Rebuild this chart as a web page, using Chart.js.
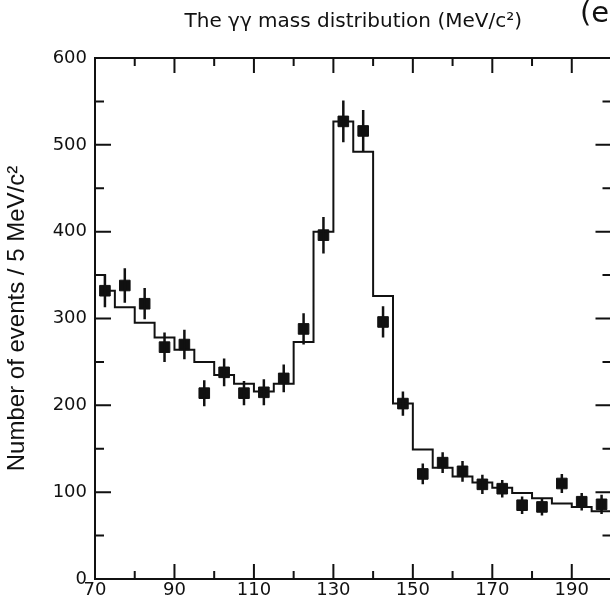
<!DOCTYPE html>
<html>
<head>
<meta charset="utf-8">
<script src="https://cdn.jsdelivr.net/npm/chart.js@4.4.0/dist/chart.umd.min.js"></script>
<style>
  html, body { margin: 0; padding: 0; background: #fff; overflow: hidden; width: 610px; height: 612px; }
  #wrap { position: relative; width: 620px; height: 612px; }
  #corner { position: absolute; left: 580px; top: -5px; font: 29px "DejaVu Sans"; color: #111; }
</style>
</head>
<body>
<div id="wrap">
  <canvas id="massChart" width="620" height="612"></canvas>
  <div id="corner">(e</div>
</div>
<script>
// measured points (bin centres, 5 MeV bins)
const massBins = [72.5, 77.5, 82.5, 87.5, 92.5, 97.5, 102.5, 107.5, 112.5, 117.5, 122.5, 127.5, 132.5,
                  137.5, 142.5, 147.5, 152.5, 157.5, 162.5, 167.5, 172.5, 177.5, 182.5, 187.5, 192.5, 197.5];
const eventCounts = [332, 338, 317, 267, 270, 214, 238, 214, 215, 231, 288, 396, 527,
                     516, 296, 202, 121, 134, 124, 109, 104, 85, 83, 110, 89, 86];
const countErrors = [19, 20, 18, 17, 17, 15, 16, 14, 15, 16, 18, 21, 24,
                     24, 18, 14, 12, 12, 12, 11, 10, 10, 10, 11, 10, 11];

// fitted histogram: left edge of each step and its level
const fitEdges = [70, 72.5, 75, 80, 85, 90, 95, 100, 105, 110, 115, 120, 125, 130,
                  135, 140, 145, 150, 155, 160, 165, 170, 175, 180, 185, 190, 195, 200];
const fitLevels = [350, 332, 313, 295, 278, 264, 250, 235, 225, 216, 225, 273, 400, 527,
                   492, 326, 202, 149, 128, 118, 111, 105, 99, 93, 87, 83, 78, 78];

const xTickValues = [70, 90, 110, 130, 150, 170, 190];
const xMinorTicks = [80, 100, 120, 140, 160, 180, 200];
const yTickValues = [0, 100, 200, 300, 400, 500, 600];
const yMinorTicks = [50, 150, 250, 350, 450, 550];

const INK = "#111";

// frame with inward ticks on all four sides
const frameTicks = {
  id: "frameTicks",
  afterDraw(chart) {
    const { ctx, chartArea: a, scales: { x, y } } = chart;
    ctx.save();
    ctx.strokeStyle = INK;
    ctx.lineWidth = 2;
    ctx.strokeRect(a.left, a.top, a.right - a.left, a.bottom - a.top);
    ctx.beginPath();
    const xt = (v, len) => {
      const px = x.getPixelForValue(v);
      ctx.moveTo(px, a.bottom); ctx.lineTo(px, a.bottom - len);
      ctx.moveTo(px, a.top); ctx.lineTo(px, a.top + len);
    };
    const yt = (v, len) => {
      const py = y.getPixelForValue(v);
      ctx.moveTo(a.left, py); ctx.lineTo(a.left + len, py);
      ctx.moveTo(a.right, py); ctx.lineTo(a.right - len, py);
    };
    xTickValues.forEach(v => xt(v, 15));
    xMinorTicks.forEach(v => xt(v, 8));
    yTickValues.forEach(v => yt(v, 16));
    yMinorTicks.forEach(v => yt(v, 9));
    ctx.stroke();
    ctx.restore();
  }
};

// vertical error bars on the measured points
const errorBars = {
  id: "errorBars",
  afterDatasetsDraw(chart) {
    const { ctx, scales: { x, y } } = chart;
    ctx.save();
    ctx.strokeStyle = INK;
    ctx.lineWidth = 2.5;
    ctx.beginPath();
    massBins.forEach((m, i) => {
      const px = x.getPixelForValue(m);
      ctx.moveTo(px, y.getPixelForValue(eventCounts[i] - countErrors[i]));
      ctx.lineTo(px, y.getPixelForValue(eventCounts[i] + countErrors[i]));
    });
    ctx.stroke();
    ctx.restore();
  }
};

const tickFont = { family: "DejaVu Sans", size: 18 };

new Chart(document.getElementById("massChart"), {
  data: {
    datasets: [
      {
        type: "line",
        data: fitEdges.map((e, i) => ({ x: e, y: fitLevels[i] })),
        stepped: "before",
        borderColor: INK,
        borderWidth: 2,
        pointRadius: 0,
        fill: false
      },
      {
        type: "scatter",
        data: massBins.map((m, i) => ({ x: m, y: eventCounts[i] })),
        pointStyle: "rect",
        pointRadius: 7.5,
        backgroundColor: INK,
        borderColor: INK,
        borderWidth: 1
      }
    ]
  },
  options: {
    responsive: false,
    animation: false,
    layout: { padding: { left: 0, right: 6, top: 0, bottom: 0 } },
    plugins: {
      legend: { display: false },
      tooltip: { enabled: false },
      title: {
        display: true,
        text: "The γγ mass distribution (MeV/c²)",
        fullSize: false,
        color: INK,
        font: { family: "DejaVu Sans", size: 20, weight: "normal" },
        padding: { top: 10, bottom: 24 }
      }
    },
    scales: {
      x: {
        type: "linear",
        min: 70,
        max: 200,
        grid: { display: false, drawTicks: false },
        border: { display: false },
        afterBuildTicks: s => { s.ticks = xTickValues.map(v => ({ value: v })); },
        afterFit: s => { s.height = 33; },
        ticks: { color: INK, font: tickFont, padding: 1, maxRotation: 0, autoSkip: false }
      },
      y: {
        type: "linear",
        min: 0,
        max: 600,
        grid: { display: false, drawTicks: false },
        border: { display: false },
        afterBuildTicks: s => { s.ticks = yTickValues.map(v => ({ value: v })); },
        afterFit: s => { s.width = 95; },
        ticks: { color: INK, font: tickFont, padding: 8 },
        title: {
          display: true,
          text: "Number of events / 5 MeV/c²",
          color: INK,
          font: { family: "Liberation Sans", size: 24 },
          padding: { top: 3, bottom: 0 }
        }
      }
    }
  },
  plugins: [errorBars, frameTicks]
});
</script>
</body>
</html>
